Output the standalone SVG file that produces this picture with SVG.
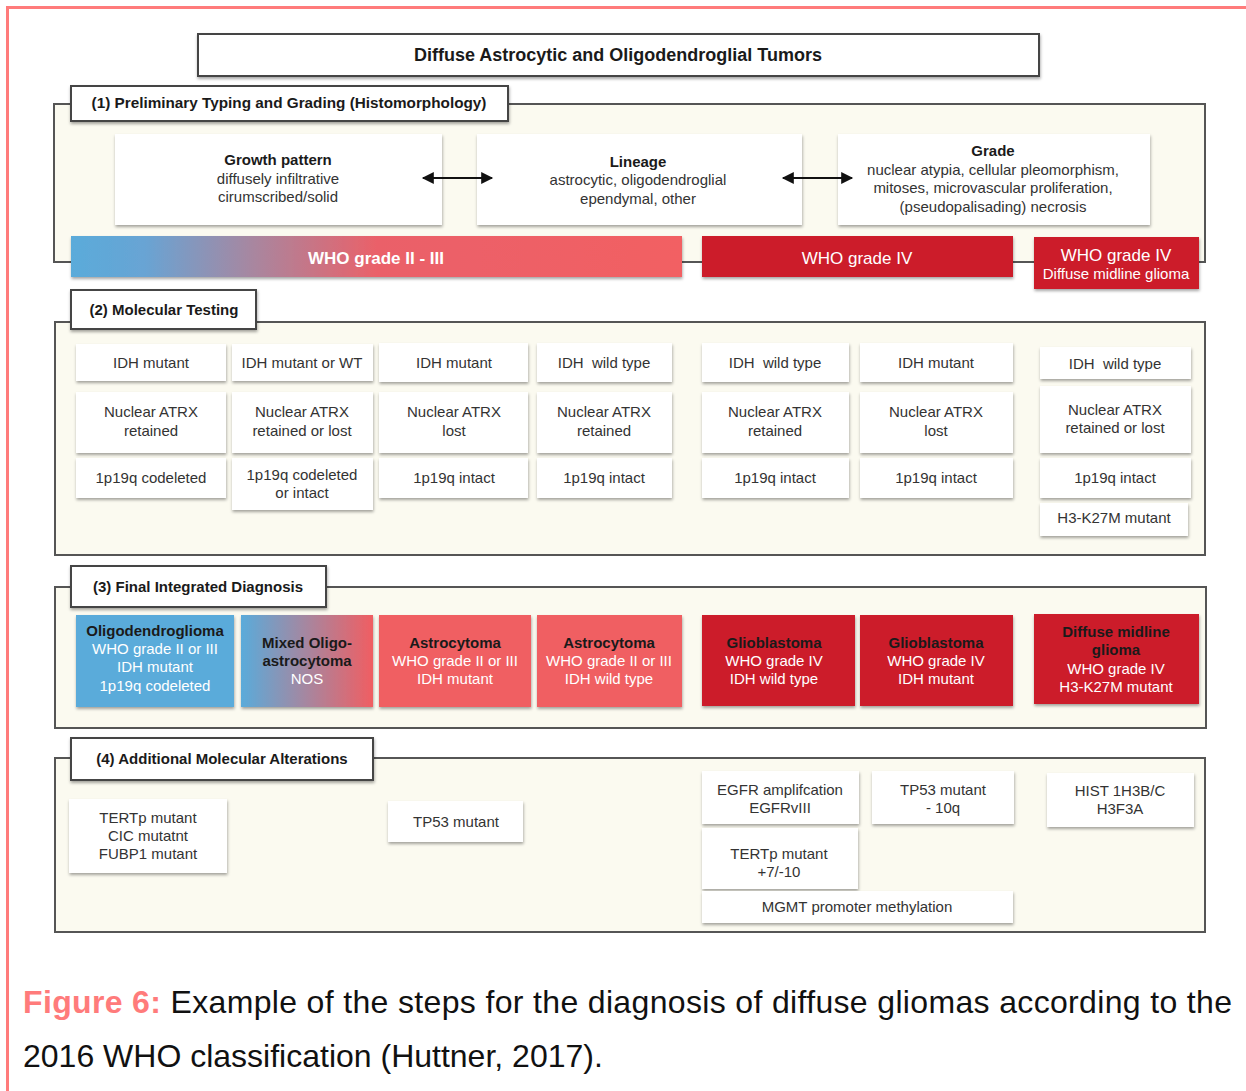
<svg xmlns="http://www.w3.org/2000/svg" width="1246" height="1091" viewBox="0 0 1246 1091">
<defs>
<style>
.t{font-family:"Liberation Sans",Arial,Helvetica,sans-serif;font-size:15px;fill:#333;text-anchor:middle;white-space:pre}
.b{font-weight:bold;fill:#1a1a1a}
.w{fill:#fff}
.frame{fill:#fbfaf0;stroke:#555;stroke-width:2}
.hdr{fill:#fff;stroke:#444;stroke-width:2;filter:url(#sh)}
.box{fill:#fff;filter:url(#sh)}
.blue{fill:#5aabda;filter:url(#sh)}
.sal{fill:#f05e62;filter:url(#sh)}
.red{fill:#cc1e2b;filter:url(#sh)}
.arr{stroke:#111;stroke-width:2;fill:none;marker-start:url(#ah);marker-end:url(#ah)}
</style>
<filter id="sh" x="-10%" y="-20%" width="120%" height="150%">
<feDropShadow dx="0.5" dy="2" stdDeviation="1.6" flood-color="#000" flood-opacity="0.35"/>
</filter>
<linearGradient id="g1" x1="0" y1="0" x2="1" y2="0">
<stop offset="0" stop-color="#5aabda"/>
<stop offset="0.12" stop-color="#68a4d4"/>
<stop offset="0.3" stop-color="#a9869f"/>
<stop offset="0.5" stop-color="#ea6169"/>
<stop offset="1" stop-color="#f26163"/>
</linearGradient>
<linearGradient id="g2" x1="0" y1="0" x2="1" y2="0">
<stop offset="0" stop-color="#5aabda"/>
<stop offset="0.5" stop-color="#a7869f"/>
<stop offset="1" stop-color="#f05e62"/>
</linearGradient>
<marker id="ah" viewBox="0 0 10 10" refX="9" refY="5" markerWidth="7" markerHeight="6" orient="auto-start-reverse">
<path d="M0,0 L10,5 L0,10 z" fill="#111"/>
</marker>
</defs>
<rect x="0" y="0" width="1246" height="1091" fill="#fff"/>
<path d="M7.5,1091 V7.5 H1246" fill="none" stroke="#ff7b7b" stroke-width="3"/>

<g id="title">
<rect x="198" y="34" width="841" height="42" class="hdr"/>
<text x="618" y="61" class="t b" style="font-size:18px">Diffuse Astrocytic and Oligodendroglial Tumors</text>
</g>

<g id="section1">
<rect x="54" y="104" width="1151" height="158" class="frame"/>
<rect x="71" y="86" width="437" height="35" class="hdr"/>
<text x="289" y="108" class="t b" style="font-size:15.3px">(1) Preliminary Typing and Grading (Histomorphology)</text>
</g>
<g id="growth">
<rect x="115" y="134" width="327" height="91" class="box"/>
<text x="278" y="165" class="t b">Growth pattern</text>
<text x="278" y="184" class="t">diffusely infiltrative</text>
<text x="278" y="202" class="t">cirumscribed/solid</text>
</g>
<g id="lineage">
<rect x="477" y="134" width="325" height="91" class="box"/>
<text x="638" y="167" class="t b">Lineage</text>
<text x="638" y="185" class="t">astrocytic, oligodendroglial</text>
<text x="638" y="204" class="t">ependymal, other</text>
</g>
<g id="grade">
<rect x="838" y="134" width="312" height="91" class="box"/>
<text x="993" y="156" class="t b">Grade</text>
<text x="993" y="175" class="t">nuclear atypia, cellular pleomorphism,</text>
<text x="993" y="193" class="t">mitoses, microvascular proliferation,</text>
<text x="993" y="212" class="t">(pseudopalisading) necrosis</text>
</g>
<g id="bar-grade2-3">
<rect x="71" y="236" width="611" height="41" fill="url(#g1)" filter="url(#sh)"/>
<text x="376" y="264" class="t b w" style="font-size:17px;fill:#fff">WHO grade II - III</text>
</g>
<g id="bar-grade4">
<rect x="702" y="236" width="311" height="41" class="red"/>
<text x="857" y="264" class="t w" style="font-size:17px">WHO grade IV</text>
</g>
<g id="bar-dmg">
<rect x="1034" y="237" width="165" height="52" class="red"/>
<text x="1116" y="261" class="t w" style="font-size:17px">WHO grade IV</text>
<text x="1116" y="279" class="t w">Diffuse midline glioma</text>
</g>

<g id="section2">
<rect x="55" y="322" width="1150" height="233" class="frame"/>
<rect x="71" y="290" width="185" height="39" class="hdr"/>
<text x="164" y="315" class="t b">(2) Molecular Testing</text>
</g>
<g id="mt-col1">
<rect x="76" y="344" width="150" height="37" class="box"/>
<text x="151" y="368" class="t">IDH mutant</text>
<rect x="76" y="392" width="150" height="61" class="box"/>
<text x="151" y="417" class="t">Nuclear ATRX</text>
<text x="151" y="436" class="t">retained</text>
<rect x="76" y="458" width="150" height="40" class="box"/>
<text x="151" y="483" class="t">1p19q codeleted</text>
</g>
<g id="mt-col2">
<rect x="232" y="344" width="141" height="37" class="box"/>
<text x="302" y="368" class="t">IDH mutant or WT</text>
<rect x="232" y="392" width="141" height="61" class="box"/>
<text x="302" y="417" class="t">Nuclear ATRX</text>
<text x="302" y="436" class="t">retained or lost</text>
<rect x="232" y="458" width="141" height="52" class="box"/>
<text x="302" y="480" class="t">1p19q codeleted</text>
<text x="302" y="498" class="t">or intact</text>
</g>
<g id="mt-col3">
<rect x="379" y="343" width="149" height="39" class="box"/>
<text x="454" y="368" class="t">IDH mutant</text>
<rect x="379" y="392" width="149" height="61" class="box"/>
<text x="454" y="417" class="t">Nuclear ATRX</text>
<text x="454" y="436" class="t">lost</text>
<rect x="379" y="458" width="149" height="40" class="box"/>
<text x="454" y="483" class="t">1p19q intact</text>
</g>
<g id="mt-col4">
<rect x="537" y="343" width="135" height="39" class="box"/>
<text x="604" y="368" class="t" xml:space="preserve">IDH  wild type</text>
<rect x="537" y="392" width="135" height="61" class="box"/>
<text x="604" y="417" class="t">Nuclear ATRX</text>
<text x="604" y="436" class="t">retained</text>
<rect x="537" y="458" width="135" height="40" class="box"/>
<text x="604" y="483" class="t">1p19q intact</text>
</g>
<g id="mt-col5">
<rect x="702" y="343" width="147" height="39" class="box"/>
<text x="775" y="368" class="t" xml:space="preserve">IDH  wild type</text>
<rect x="702" y="392" width="147" height="61" class="box"/>
<text x="775" y="417" class="t">Nuclear ATRX</text>
<text x="775" y="436" class="t">retained</text>
<rect x="702" y="458" width="147" height="40" class="box"/>
<text x="775" y="483" class="t">1p19q intact</text>
</g>
<g id="mt-col6">
<rect x="860" y="343" width="153" height="39" class="box"/>
<text x="936" y="368" class="t">IDH mutant</text>
<rect x="860" y="392" width="153" height="61" class="box"/>
<text x="936" y="417" class="t">Nuclear ATRX</text>
<text x="936" y="436" class="t">lost</text>
<rect x="860" y="458" width="153" height="40" class="box"/>
<text x="936" y="483" class="t">1p19q intact</text>
</g>
<g id="mt-col7">
<rect x="1040" y="347" width="151" height="32" class="box"/>
<text x="1115" y="369" class="t" xml:space="preserve">IDH  wild type</text>
<rect x="1040" y="386" width="151" height="67" class="box"/>
<text x="1115" y="415" class="t">Nuclear ATRX</text>
<text x="1115" y="433" class="t">retained or lost</text>
<rect x="1040" y="458" width="151" height="40" class="box"/>
<text x="1115" y="483" class="t">1p19q intact</text>
<rect x="1040" y="503" width="148" height="33" class="box"/>
<text x="1114" y="523" class="t">H3-K27M mutant</text>
</g>

<g id="section3">
<rect x="55" y="587" width="1151" height="141" class="frame"/>
<rect x="71" y="566" width="255" height="41" class="hdr"/>
<text x="198" y="592" class="t b">(3) Final Integrated Diagnosis</text>
</g>
<g id="dx-oligo">
<rect x="76" y="615" width="158" height="92" class="blue"/>
<text x="155" y="636" class="t b">Oligodendroglioma</text>
<text x="155" y="654" class="t w">WHO grade II or III</text>
<text x="155" y="672" class="t w">IDH mutant</text>
<text x="155" y="691" class="t w">1p19q codeleted</text>
</g>
<g id="dx-mixed">
<rect x="241" y="615" width="132" height="92" fill="url(#g2)" filter="url(#sh)"/>
<text x="307" y="648" class="t b">Mixed Oligo-</text>
<text x="307" y="666" class="t b">astrocytoma</text>
<text x="307" y="684" class="t w">NOS</text>
</g>
<g id="dx-astro-mut">
<rect x="379" y="615" width="152" height="92" class="sal"/>
<text x="455" y="648" class="t b">Astrocytoma</text>
<text x="455" y="666" class="t w">WHO grade II or III</text>
<text x="455" y="684" class="t w">IDH mutant</text>
</g>
<g id="dx-astro-wt">
<rect x="537" y="615" width="145" height="92" class="sal"/>
<text x="609" y="648" class="t b">Astrocytoma</text>
<text x="609" y="666" class="t w">WHO grade II or III</text>
<text x="609" y="684" class="t w">IDH wild type</text>
</g>
<g id="dx-gbm-wt">
<rect x="702" y="615" width="153" height="91" class="red"/>
<text x="774" y="648" class="t b">Glioblastoma</text>
<text x="774" y="666" class="t w">WHO grade IV</text>
<text x="774" y="684" class="t w">IDH wild type</text>
</g>
<g id="dx-gbm-mut">
<rect x="860" y="615" width="153" height="91" class="red"/>
<text x="936" y="648" class="t b">Glioblastoma</text>
<text x="936" y="666" class="t w">WHO grade IV</text>
<text x="936" y="684" class="t w">IDH mutant</text>
</g>
<g id="dx-dmg">
<rect x="1034" y="614" width="165" height="90" class="red"/>
<text x="1116" y="637" class="t b">Diffuse midline</text>
<text x="1116" y="655" class="t b">glioma</text>
<text x="1116" y="674" class="t w">WHO grade IV</text>
<text x="1116" y="692" class="t w">H3-K27M mutant</text>
</g>

<g id="section4">
<rect x="55" y="758" width="1150" height="174" class="frame"/>
<rect x="71" y="738" width="302" height="42" class="hdr"/>
<text x="222" y="764" class="t b">(4) Additional Molecular Alterations</text>
</g>
<g id="am-oligo">
<rect x="69" y="799" width="158" height="74" class="box"/>
<text x="148" y="823" class="t">TERTp mutant</text>
<text x="148" y="841" class="t">CIC mutatnt</text>
<text x="148" y="859" class="t">FUBP1 mutant</text>
</g>
<g id="am-tp53">
<rect x="388" y="801" width="135" height="41" class="box"/>
<text x="456" y="827" class="t">TP53 mutant</text>
</g>
<g id="am-egfr">
<rect x="702" y="771" width="157" height="53" class="box"/>
<text x="780" y="795" class="t">EGFR amplifcation</text>
<text x="780" y="813" class="t">EGFRvIII</text>
</g>
<g id="am-tp53-10q">
<rect x="872" y="771" width="142" height="53" class="box"/>
<text x="943" y="795" class="t">TP53 mutant</text>
<text x="943" y="813" class="t">- 10q</text>
</g>
<g id="am-hist">
<rect x="1047" y="773" width="147" height="54" class="box"/>
<text x="1120" y="796" class="t">HIST 1H3B/C</text>
<text x="1120" y="814" class="t">H3F3A</text>
</g>
<g id="am-tert">
<rect x="702" y="828" width="156" height="61" class="box"/>
<text x="779" y="859" class="t">TERTp mutant</text>
<text x="779" y="877" class="t">+7/-10</text>
</g>
<g id="am-mgmt">
<rect x="702" y="891" width="311" height="32" class="box"/>
<text x="857" y="912" class="t">MGMT promoter methylation</text>
</g>

<g id="connectors">
<line x1="423" y1="178" x2="492" y2="178" class="arr"/>
<line x1="783" y1="178" x2="852" y2="178" class="arr"/>
</g>

<g id="caption" font-family="Liberation Sans, Arial, sans-serif" font-size="32">
<text x="23" y="1013" textLength="1209" lengthAdjust="spacing" fill="#111"><tspan fill="#ff7b7b" font-weight="bold">Figure 6:</tspan> Example of the steps for the diagnosis of diffuse gliomas according to the</text>
<text x="23" y="1067" fill="#111">2016 WHO classification (Huttner, 2017).</text>
</g>
</svg>
